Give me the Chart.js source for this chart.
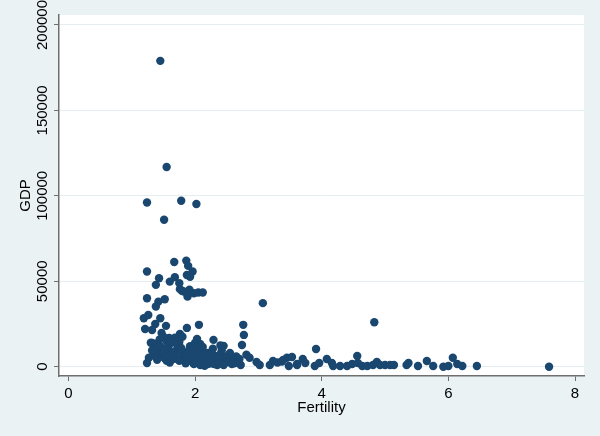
<!DOCTYPE html>
<html>
<head>
<meta charset="utf-8">
<script src="https://cdn.jsdelivr.net/npm/chart.js@4.4.1/dist/chart.umd.min.js"></script>
<style>
  body { margin: 0; background: #eaf2f3; }
  canvas { display: block; }
</style>
</head>
<body>
<canvas id="scatterChart" width="600" height="436"></canvas>
<script>
// fertility (x) and GDP (y), one entry per country
const fertility = [
    1.45, 1.55, 1.24, 1.78, 2.02, 1.51,
    1.67, 1.86, 1.89, 1.24, 1.87, 1.96, 1.92, 1.43, 1.38, 1.60, 1.68, 1.75, 1.76, 1.82,
    1.79, 1.91, 1.98, 2.05, 2.12, 1.88, 1.24, 1.42, 1.52, 1.38, 1.19, 1.26, 1.45, 1.37,
    1.54, 1.21, 1.32, 1.87, 2.06, 2.76, 2.77, 3.07, 1.47, 1.76, 2.03, 1.59, 1.32, 2.29,
    2.74, 2.45, 2.08,
    1.30, 1.35, 1.40, 1.42, 1.45, 1.48, 1.50, 1.52, 1.55, 1.57, 1.44, 1.50, 1.55, 1.58,
    1.60, 1.62, 1.65, 1.68, 1.70, 1.72, 1.75, 1.78, 1.80, 1.82, 1.85, 1.88, 1.90, 1.92,
    1.95, 1.97, 2.00, 2.02, 2.05, 2.07, 2.10, 2.12, 2.15, 2.18, 2.20, 2.22, 2.25, 2.28,
    2.30, 2.32, 2.35, 2.38, 2.40, 2.42, 2.45, 2.48, 2.50, 2.52, 2.55, 2.58, 2.60, 2.62,
    2.65, 2.68, 2.72, 2.70, 1.98, 1.85, 1.75, 1.65, 1.60, 2.08, 2.15, 2.25, 2.30, 2.45,
    1.35, 1.40, 1.32, 1.45, 1.52, 1.62, 1.68, 1.80, 1.92, 1.95, 2.00, 2.03, 2.12, 2.18,
    2.35, 2.55, 2.40, 1.72, 1.88, 2.05, 2.22, 2.38,
    2.81, 2.86, 2.97, 3.02, 3.18, 3.23, 3.30, 3.37, 3.45, 3.53, 3.48, 3.61, 1.24, 1.27,
    4.83, 3.91, 4.56, 6.07, 5.66, 4.08, 3.39, 3.70, 3.74, 3.61, 3.89, 3.96, 4.16, 4.18,
    4.29, 4.40, 4.48, 4.57, 4.64, 4.72, 4.81, 4.87, 4.92, 5.00, 5.08, 5.14, 5.34, 5.37,
    5.52, 5.76, 5.92, 6.00, 6.14, 6.22, 6.45, 7.59
];
const gdp = [
    179000, 116900, 96100, 97100, 95200, 86000,
    61300, 62100, 59000, 55700, 53700, 55700, 52600, 51800, 47900, 49800, 52400, 48900, 45400, 44000,
    44400, 45000, 43000, 43400, 43400, 41000, 40100, 38100, 39500, 35200, 28400, 30300, 28400, 25000,
    23900, 22100, 21500, 22700, 24500, 24500, 18600, 37200, 19700, 19100, 16300, 16800, 13900, 15700,
    12700, 12200, 13300,
    14000, 13500, 11000, 9000, 7000, 6000, 8500, 5000, 3500, 4500, 16000, 17500, 15000, 12000,
    9000, 7000, 8000, 6500, 9500, 12500, 14500, 11000, 8000, 6000, 4500, 7500, 9500, 5000,
    3000, 6500, 8000, 4000, 2500, 6000, 9000, 11500, 7000, 3500, 1500, 5500, 8500, 10500,
    6500, 3000, 1000, 4500, 7500, 9500, 5500, 2500, 4000, 6500, 3500, 1500, 5000, 2000,
    6000, 3500, 1000, 4500, 1500, 2000, 3500, 4500, 2500, 1000, 500, 2000, 1500, 1000,
    6500, 4000, 9500, 12000, 10500, 14000, 17000, 17500, 12000, 10000, 14000, 11500, 5000, 8000,
    6000, 8000, 12500, 4500, 3500, 7000, 3500, 2000,
    7000, 5200, 2800, 1000, 1000, 3300, 2500, 3000, 5200, 5700, 400, 1000, 2200, 5200,
    26000, 10400, 6300, 5200, 3300, 4500, 3900, 4500, 2200, 1600, 400, 2200, 2200, 400,
    400, 400, 1600, 2200, 400, 400, 1000, 2800, 1000, 1000, 1000, 1000, 1000, 2200,
    400, 400, 0, 400, 1600, 400, 400, 0
];

const xTicks = [0, 2, 4, 6, 8];
const yTicks = [0, 50000, 100000, 150000, 200000];

const outerColor = '#eaf2f3';
const axisColor = '#6f6f6f';
const labelFont = '15px "Liberation Sans", Arial, sans-serif';

// Stata-like backdrop: light blue-grey page, white plot region
const backdrop = {
    id: 'backdrop',
    beforeDraw(chart) {
        const { ctx, chartArea: a } = chart;
        ctx.save();
        ctx.fillStyle = outerColor;
        ctx.fillRect(0, 0, chart.width, chart.height);
        ctx.fillStyle = '#ffffff';
        ctx.fillRect(a.left, a.top, a.right - a.left, a.bottom - a.top);
        ctx.restore();
    }
};

// vertical y tick labels and axis title, as Stata draws them
const verticalYLabels = {
    id: 'verticalYLabels',
    afterDraw(chart) {
        const { ctx, scales: { y } } = chart;
        ctx.save();
        ctx.fillStyle = '#000';
        ctx.font = labelFont;
        ctx.textAlign = 'center';
        ctx.textBaseline = 'alphabetic';
        yTicks.forEach(v => {
            ctx.save();
            ctx.translate(46.5, y.getPixelForValue(v));
            ctx.rotate(-Math.PI / 2);
            ctx.fillText(String(v), 0, 0);
            ctx.restore();
        });
        ctx.translate(29.5, (y.top + y.bottom) / 2);
        ctx.rotate(-Math.PI / 2);
        ctx.fillText('GDP', 0, 0);
        ctx.restore();
    }
};

const ctx = document.getElementById('scatterChart').getContext('2d');
new Chart(ctx, {
    type: 'scatter',
    data: {
        datasets: [{
            label: 'GDP',
            data: fertility.map((f, i) => ({ x: f, y: gdp[i] })),
            backgroundColor: '#1a476f',
            borderWidth: 0,
            pointRadius: 4.2,
            pointHoverRadius: 4.2
        }]
    },
    options: {
        responsive: false,
        animation: false,
        devicePixelRatio: 1,
        layout: { padding: { top: 15, right: 16, left: 0, bottom: 0 } },
        plugins: {
            legend: { display: false },
            tooltip: { enabled: false }
        },
        scales: {
            x: {
                type: 'linear',
                min: -0.15,
                max: 8.142,
                afterBuildTicks: s => { s.ticks = xTicks.map(v => ({ value: v })); },
                afterFit: s => { s.height = 60; },
                border: { display: true, color: axisColor, width: 1.5 },
                grid: { drawOnChartArea: false, drawTicks: true, tickLength: 5, tickColor: axisColor },
                ticks: {
                    color: '#000',
                    font: { family: '"Liberation Sans", Arial, sans-serif', size: 15 },
                    padding: 4,
                    maxRotation: 0,
                    autoSkip: false
                },
                title: {
                    display: true,
                    text: 'Fertility',
                    color: '#000',
                    font: { family: '"Liberation Sans", Arial, sans-serif', size: 15 },
                    padding: { top: 0, bottom: 19 }
                }
            },
            y: {
                type: 'linear',
                min: -5444,
                max: 205850,
                afterBuildTicks: s => { s.ticks = yTicks.map(v => ({ value: v })); },
                afterFit: s => { s.width = 59; },
                border: { display: true, color: axisColor, width: 1.5 },
                grid: { color: '#e4eef0', lineWidth: 1, drawTicks: true, tickLength: 5, tickColor: axisColor },
                ticks: { display: false }
            }
        }
    },
    plugins: [backdrop, verticalYLabels]
});
</script>
</body>
</html>
